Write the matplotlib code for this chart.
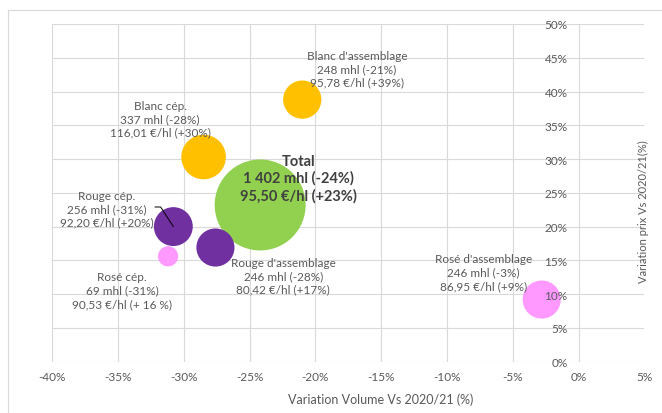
import matplotlib
matplotlib.use('Agg')
import matplotlib.pyplot as plt
from matplotlib.ticker import MultipleLocator, FuncFormatter
from matplotlib.patches import Rectangle

plt.rcParams['font.family'] = ['Lato', 'DejaVu Sans']

# data (variations in %)
segments = ["Total", "Blanc d'assemblage", "Blanc cép.", "Rouge cép.",
            "Rouge d'assemblage", "Rosé cép.", "Rosé d'assemblage"]
volume_var = [-24.2, -21.0, -28.5, -30.8, -27.6, -31.2, -2.8]
price_var = [23.2, 38.8, 30.3, 20.0, 16.9, 15.6, 9.2]
volume_mhl = [1402, 248, 337, 256, 246, 69, 246]
label_lines = [
    "1 402 mhl (-24%)\n95,50 €/hl (+23%)",
    "248 mhl (-21%)\n95,78 €/hl (+39%)",
    "337 mhl (-28%)\n116,01 €/hl (+30%)",
    "256 mhl (-31%)\n92,20 €/hl (+20%)",
    "246 mhl (-28%)\n80,42 €/hl (+17%)",
    "69 mhl (-31%)\n90,53 €/hl (+ 16 %)",
    "246 mhl (-3%)\n86,95 €/hl (+9%)",
]
x_ticks = [-40, -35, -30, -25, -20, -15, -10, -5, 0, 5]
y_ticks = [0, 5, 10, 15, 20, 25, 30, 35, 40, 45, 50]

colors = ['#92D050', '#FFC000', '#FFC000', '#7030A0', '#7030A0', '#FF99FF', '#FF99FF']
# where the labels sit (data coords)
label_pos = [(-21.3, 27.2), (-16.85, 43.4), (-31.8, 36.0), (-35.85, 22.6),
             (-22.45, 12.75), (-34.7, 10.6), (-7.25, 13.25)]

grey_txt = '#595959'
grid_col = '#D9D9D9'

fig = plt.figure(figsize=(6.62, 4.14), dpi=100)
ax = fig.add_axes([0.079, 0.124, 0.8943, 0.8157])

# bubble area proportional to volume
sizes = [v * 3.06 for v in volume_mhl]
for i in range(len(segments)):
    ax.scatter(volume_var[i], price_var[i], s=sizes[i], c=colors[i],
               edgecolors='none', zorder=3)

ax.set_xlim(-40, 5)
ax.set_ylim(0, 50)
ax.set_xticks(x_ticks)
ax.set_yticks(y_ticks)
pct = FuncFormatter(lambda v, p: '{:.0f}%'.format(v))
ax.xaxis.set_major_formatter(pct)
ax.yaxis.set_major_formatter(pct)

# gridlines drawn by hand so that tick labels can stay on top of bubbles
for t in x_ticks:
    ax.axvline(t, color=grid_col, linewidth=0.8, zorder=0)
for t in y_ticks:
    ax.axhline(t, color=grid_col, linewidth=0.8, zorder=0)
ax.set_axisbelow(False)
ax.xaxis.set_zorder(4)
ax.yaxis.set_zorder(4)

for s in ['top', 'right', 'left', 'bottom']:
    ax.spines[s].set_visible(False)
ax.spines['left'].set_position(('data', 0))

ax.tick_params(axis='both', length=0, labelsize=8.5, labelcolor=grey_txt)
ax.tick_params(axis='x', pad=7)
ax.tick_params(axis='y', pad=8)

# labels
for i in range(len(segments)):
    if segments[i] == 'Total':
        ax.text(label_pos[i][0], label_pos[i][1], segments[i] + '\n' + label_lines[i],
                ha='center', va='center', fontsize=10.5, fontweight='bold',
                color='#404040', linespacing=1.25, zorder=5)
    else:
        ax.text(label_pos[i][0], label_pos[i][1], segments[i] + '\n' + label_lines[i],
                ha='center', va='center', fontsize=8.5, color=grey_txt,
                linespacing=1.25, zorder=5)

# leader line for Rouge cep.
k = segments.index('Rouge cép.')
ax.annotate('', xy=(volume_var[k], price_var[k]), xytext=(-32.2, 22.9),
            arrowprops=dict(arrowstyle='-', color='black', lw=0.7,
                            shrinkA=0, shrinkB=0,
                            connectionstyle='angle,angleA=0,angleB=-57,rad=0'),
            zorder=6)

ax.text(0.5555, -0.11, 'Variation Volume Vs 2020/21 (%)', transform=ax.transAxes,
        ha='center', va='center', fontsize=9, color=grey_txt)
ax.text(0.998, 0.446, 'Variation prix Vs 2020/21(%)', transform=ax.transAxes,
        ha='center', va='center', rotation=90, fontsize=8, color=grey_txt)

# outer chart frame
fig.patches.append(Rectangle((8 / 662, -0.05), 1.2, 0.05 + 1 - 11 / 414,
                             transform=fig.transFigure, fill=False,
                             edgecolor=grid_col, linewidth=0.8))

plt.savefig('out.png', dpi=100)
